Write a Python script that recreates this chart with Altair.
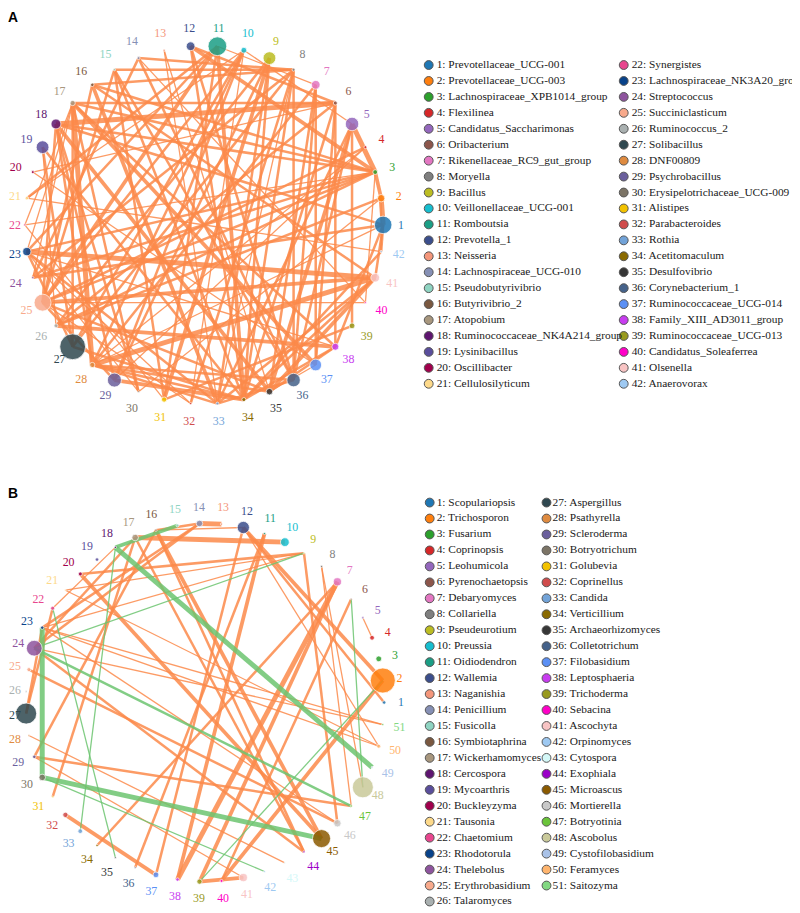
import math
import altair as alt
import pandas as pd

# ---------------- data ----------------
A_NAMES = ["Prevotellaceae_UCG-001", "Prevotellaceae_UCG-003", "Lachnospiraceae_XPB1014_group",
           "Flexilinea", "Candidatus_Saccharimonas", "Oribacterium", "Rikenellaceae_RC9_gut_group",
           "Moryella", "Bacillus", "Veillonellaceae_UCG-001", "Romboutsia", "Prevotella_1", "Neisseria",
           "Lachnospiraceae_UCG-010", "Pseudobutyrivibrio", "Butyrivibrio_2", "Atopobium",
           "Ruminococcaceae_NK4A214_group", "Lysinibacillus", "Oscillibacter", "Cellulosilyticum",
           "Synergistes", "Lachnospiraceae_NK3A20_group", "Streptococcus", "Succiniclasticum",
           "Ruminococcus_2", "Solibacillus", "DNF00809", "Psychrobacillus", "Erysipelotrichaceae_UCG-009",
           "Alistipes", "Parabacteroides", "Rothia", "Acetitomaculum", "Desulfovibrio",
           "Corynebacterium_1", "Ruminococcaceae_UCG-014", "Family_XIII_AD3011_group",
           "Ruminococcaceae_UCG-013", "Candidatus_Soleaferrea", "Olsenella", "Anaerovorax"]

B_NAMES = ["Scopulariopsis", "Trichosporon", "Fusarium", "Coprinopsis", "Leohumicola", "Pyrenochaetopsis",
           "Debaryomyces", "Collariella", "Pseudeurotium", "Preussia", "Oidiodendron", "Wallemia",
           "Naganishia", "Penicillium", "Fusicolla", "Symbiotaphrina", "Wickerhamomyces", "Cercospora",
           "Mycoarthris", "Buckleyzyma", "Tausonia", "Chaetomium", "Rhodotorula", "Thelebolus",
           "Erythrobasidium", "Talaromyces", "Aspergillus", "Psathyrella", "Scleroderma", "Botryotrichum",
           "Golubevia", "Coprinellus", "Candida", "Verticillium", "Archaeorhizomyces", "Colletotrichum",
           "Filobasidium", "Leptosphaeria", "Trichoderma", "Sebacina", "Ascochyta", "Orpinomyces",
           "Cytospora", "Exophiala", "Microascus", "Mortierella", "Botryotinia", "Ascobolus",
           "Cystofilobasidium", "Feramyces", "Saitozyma"]

PALETTE = ["#1f77b4", "#ff7f0e", "#2ca02c", "#d62728", "#9467bd", "#8c564b", "#e377c2", "#7f7f7f",
           "#bcbd22", "#17becf", "#1b9e85", "#3b4e8c", "#f4967a", "#8690b5", "#8fd4c2", "#7a5840",
           "#a8977e", "#5e1570", "#5a4e9c", "#a0004c", "#fdd98a", "#e8468e", "#08428a", "#8e549e",
           "#f8aa8c", "#a9b0b0", "#2f4850", "#df8b40", "#6a5f9c", "#7c7466", "#f2c200", "#d04c4c",
           "#72a3d8", "#8a6a00", "#363636", "#45628a", "#5b90f5", "#c83cf0", "#999a1e", "#ff00c8",
           "#f8c4c4", "#9ec9f2", "#d4f8f8", "#9b00c8", "#8b5a00", "#c8c8c8", "#6ac43a", "#c9c99a",
           "#a9c2e8", "#ffb56e", "#82d882"]

# relative abundance (node area units)
A_ABUND = [100, 18, 7.3, 2.9, 59, 5.3, 25, 2.9, 53, 11, 114, 25, 1.7, 2.9, 1.7, 4, 9, 32, 53, 2.9, 4,
           1.7, 22, 1.7, 94, 5.3, 216, 9, 64, 1, 9, 1.7, 2.9, 5.3, 14, 59, 45, 16, 11, 1, 25, 1.7]
B_ABUND = [4, 204, 11, 7.3, 1.7, 1, 22, 1.7, 1, 25, 1.7, 49, 1.7, 14, 2.9, 1.7, 14, 1.7, 4, 5.3, 1,
           5.3, 4, 81, 5.3, 1, 144, 1, 4, 14, 1, 9, 7.3, 1.7, 1, 1, 11, 4, 9, 2.9, 22, 1, 1, 1.7, 106,
           18, 1.7, 144, 1, 5.3, 1.7]

# correlations: (node, node, strength level 1-4)
A_EDGES = [(5, 3, 4), (3, 2, 3), (2, 1, 4), (1, 42, 2), (18, 6, 4), (23, 41, 4), (25, 41, 3), (26, 38, 3),
           (28, 41, 4), (17, 28, 4), (19, 27, 2), (7, 37, 2), (6, 38, 2), (12, 3, 3), (11, 25, 3),
           (10, 27, 2), (10, 25, 2), (16, 3, 2), (15, 8, 2), (14, 8, 2), (16, 8, 2), (17, 6, 2),
           (17, 3, 2), (18, 3, 2), (18, 1, 2), (17, 37, 3), (17, 38, 2), (18, 35, 3), (18, 30, 2),
           (16, 33, 3), (15, 34, 2), (15, 31, 2), (14, 24, 2), (13, 33, 1), (12, 34, 2), (11, 23, 2),
           (11, 21, 2), (10, 29, 2), (10, 28, 2), (9, 29, 2), (9, 31, 3), (8, 32, 2), (8, 27, 2),
           (8, 24, 2), (7, 28, 2), (6, 26, 2), (6, 34, 2), (5, 35, 3), (5, 33, 2), (4, 29, 1),
           (4, 25, 2), (3, 23, 2), (3, 25, 2), (3, 26, 2), (2, 26, 2), (2, 30, 1), (1, 24, 2),
           (1, 28, 1), (42, 34, 2), (41, 35, 3), (41, 34, 2), (41, 33, 2), (40, 25, 1), (39, 31, 2),
           (38, 23, 1), (38, 34, 2), (38, 35, 2), (37, 35, 1), (36, 33, 2), (36, 28, 2), (35, 28, 2),
           (35, 25, 2), (34, 28, 2), (34, 29, 3), (34, 27, 2), (33, 28, 2), (33, 23, 2), (32, 23, 1),
           (32, 25, 1), (31, 22, 1), (30, 23, 1), (29, 25, 2), (27, 23, 2), (27, 17, 2), (25, 18, 2),
           (25, 16, 2), (25, 15, 2), (24, 17, 1), (23, 17, 1), (22, 17, 1), (21, 10, 1), (20, 37, 1),
           (26, 19, 1), (28, 18, 2), (29, 18, 2), (30, 17, 2), (31, 11, 2), (32, 10, 1), (33, 9, 2),
           (34, 8, 2), (35, 7, 2), (36, 8, 2), (37, 6, 2), (38, 1, 2), (39, 5, 2), (40, 3, 1),
           (41, 1, 2), (42, 2, 1), (24, 3, 2), (22, 3, 1), (19, 34, 2), (20, 6, 1), (21, 42, 1),
           (14, 40, 1), (13, 35, 1), (12, 36, 2), (11, 34, 3), (9, 34, 2), (8, 33, 1), (7, 36, 2),
           (5, 36, 2), (4, 28, 1), (16, 41, 2), (15, 36, 2), (14, 36, 2), (12, 6, 2), (11, 7, 1),
           (10, 5, 1), (9, 26, 2)]

# (node, node, strength level 1-4, sign)
B_EDGES = [(13, 14, 4, "+"), (14, 16, 2, "+"), (14, 23, 2, "+"), (14, 24, 2, "+"), (17, 10, 4, "+"),
           (16, 12, 1, "+"), (12, 2, 3, "+"), (12, 1, 2, "+"), (12, 37, 2, "+"), (11, 38, 3, "+"),
           (20, 9, 2, "+"), (21, 9, 1, "+"), (20, 45, 3, "+"), (16, 45, 3, "+"), (16, 44, 2, "+"),
           (7, 38, 4, "+"), (7, 39, 3, "+"), (6, 40, 2, "+"), (8, 47, 1, "+"), (9, 46, 2, "+"),
           (5, 4, 1, "+"), (23, 50, 1, "+"), (23, 51, 1, "+"), (23, 46, 1, "+"), (24, 44, 2, "+"),
           (27, 22, 2, "+"), (27, 23, 2, "+"), (29, 16, 2, "+"), (31, 17, 2, "+"), (34, 7, 2, "+"),
           (32, 37, 3, "+"), (28, 43, 1, "+"), (29, 47, 2, "+"), (25, 46, 2, "+"), (36, 11, 2, "+"),
           (39, 41, 3, "+"), (40, 2, 3, "+"), (44, 17, 2, "+"), (8, 48, 1, "+"), (50, 12, 1, "+"),
           (50, 21, 1, "+"), (51, 24, 1, "+"), (41, 29, 1, "+"), (24, 17, 2, "+"), (22, 18, 1, "+"),
           (23, 9, 1, "+"), (23, 30, 4, "-"), (30, 45, 4, "-"), (30, 42, 1, "-"), (18, 49, 4, "-"),
           (6, 48, 1, "-"), (24, 9, 1, "-"), (18, 15, 3, "-"), (39, 2, 1, "-"), (33, 18, 1, "-"),
           (35, 22, 1, "-"), (24, 47, 2, "-")]

# ---------------- layout ----------------
W, H = 792, 905
PANELS = {
    "A": dict(names=A_NAMES, abund=A_ABUND, cx=206, cy=222.5, r=181, lr=199,
              leg_y0=61, leg_dy=16.1, leg_cols=[(433, 441), (630, 638)], per_col=21),
    "B": dict(names=B_NAMES, abund=B_ABUND, cx=207, cy=705, r=181, lr=198,
              leg_y0=503, leg_dy=16.12, leg_cols=[(434, 441), (552, 558)], per_col=26),
}
ORANGE, GREEN = "#fb8a4a", "#6cc470"

node_rows, label_rows, leg_sym_rows, leg_txt_rows, edge_rows = [], [], [], [], []
pos = {}
for key, p in PANELS.items():
    n = len(p["names"])
    for i in range(n):
        ang = 2 * math.pi * i / n
        x = p["cx"] + p["r"] * math.cos(ang)
        y = p["cy"] - p["r"] * math.sin(ang)
        pos[(key, i + 1)] = (x, y)
        node_rows.append(dict(x=x, y=y, area=math.pi * p["abund"][i], col=PALETTE[i]))
        lx = p["cx"] + p["lr"] * math.cos(ang)
        ly = p["cy"] - p["lr"] * math.sin(ang)
        label_rows.append(dict(x=max(lx, 15), y=ly, t=str(i + 1), col=PALETTE[i]))
        c = i // p["per_col"]
        k = i % p["per_col"]
        sx, tx = p["leg_cols"][c]
        ry = p["leg_y0"] + k * p["leg_dy"]
        leg_sym_rows.append(dict(x=sx, y=ry, col=PALETTE[i]))
        leg_txt_rows.append(dict(x=tx, y=ry, t=f"{i + 1}: {p['names'][i]}"))

for a, b, w in A_EDGES:
    (x1, y1), (x2, y2) = pos[("A", a)], pos[("A", b)]
    edge_rows.append(dict(x=x1, y=y1, x2=x2, y2=y2, w=w, col=ORANGE))
for a, b, w, s in B_EDGES:
    (x1, y1), (x2, y2) = pos[("B", a)], pos[("B", b)]
    edge_rows.append(dict(x=x1, y=y1, x2=x2, y2=y2, w=w, col=ORANGE if s == "+" else GREEN))

nodes = pd.DataFrame(node_rows)
labels = pd.DataFrame(label_rows)
leg_sym = pd.DataFrame(leg_sym_rows)
leg_txt = pd.DataFrame(leg_txt_rows)
edges = pd.DataFrame(edge_rows)
letters = pd.DataFrame(dict(x=[8, 8], y=[14, 494], t=["A", "B"]))

XS = alt.Scale(domain=[8, 8 + W], nice=False, zero=False)
YS = alt.Scale(domain=[8, 8 + H], nice=False, zero=False, reverse=True)
X = lambda f="x": alt.X(f + ":Q", scale=XS, axis=None)
Y = lambda f="y": alt.Y(f + ":Q", scale=YS, axis=None)

edge_layer = alt.Chart(edges).mark_rule(opacity=0.85, strokeCap="butt").encode(
    x=X(), y=Y(), x2="x2:Q", y2="y2:Q",
    strokeWidth=alt.StrokeWidth("w:Q", scale=alt.Scale(domain=[1, 4], range=[1.3, 5]), legend=None),
    color=alt.Color("col:N", scale=None),
)
node_layer = alt.Chart(nodes).mark_circle(opacity=0.85, stroke="white", strokeWidth=0.8).encode(
    x=X(), y=Y(), size=alt.Size("area:Q", scale=None), color=alt.Color("col:N", scale=None),
)
label_layer = alt.Chart(labels).mark_text(font="Liberation Serif", fontSize=12, baseline="middle",
                                          align="center").encode(
    x=X(), y=Y(), text="t:N", color=alt.Color("col:N", scale=None),
)
leg_sym_layer = alt.Chart(leg_sym).mark_circle(size=80, opacity=1, stroke="#555555", strokeWidth=1).encode(
    x=X(), y=Y(), color=alt.Color("col:N", scale=None),
)
leg_txt_layer = alt.Chart(leg_txt).mark_text(font="Liberation Serif", fontSize=11.5, baseline="middle",
                                             align="left", color="#1a1a1a").encode(
    x=X(), y=Y(), text="t:N",
)
letter_layer = alt.Chart(letters).mark_text(font="Liberation Sans", fontSize=14, fontWeight="bold",
                                            baseline="middle", align="left", color="black").encode(
    x=X(), y=Y(), text="t:N",
)

chart = alt.layer(edge_layer, node_layer, label_layer, leg_sym_layer, leg_txt_layer, letter_layer).properties(
    width=W, height=H, padding=0, autosize=alt.AutoSizeParams(type="none"),
).configure_view(stroke=None)

chart.save("out.html", embed_options={"renderer": "svg", "actions": False})
